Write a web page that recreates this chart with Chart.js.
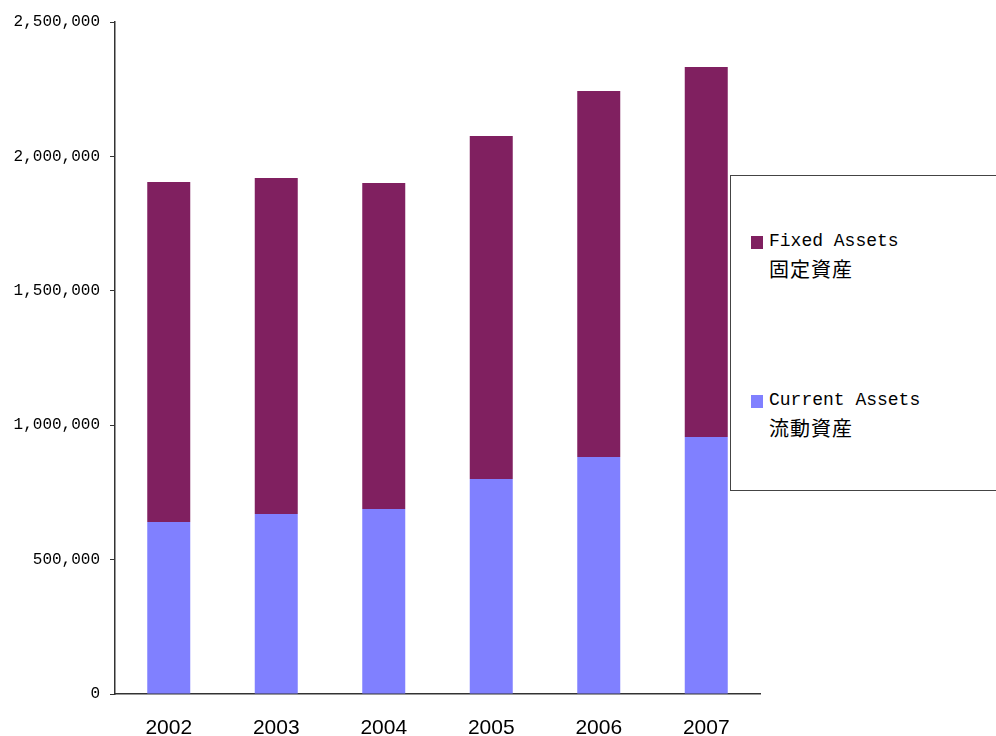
<!DOCTYPE html>
<html>
<head>
<meta charset="utf-8">
<script src="https://cdn.jsdelivr.net/npm/chart.js@4.4.1/dist/chart.umd.min.js"></script>
<style>
  html, body { margin: 0; padding: 0; background: #fff; }
  #wrap { position: relative; width: 996px; height: 736px; overflow: hidden; }
  #legendBox {
    position: absolute; left: 730px; top: 175px; width: 300px; height: 316px;
    border: 1.5px solid #444; background: #fff; box-sizing: border-box;
  }
  .item { position: absolute; left: 20px; }
  .swatch { position: absolute; left: 0; top: 5px; width: 12px; height: 13px; }
  .line1 { position: absolute; left: 18px; top: 0; white-space: nowrap;
    font: 18px "Liberation Mono", "DejaVu Sans Mono", monospace; color: #000; }
  .line2 { position: absolute; left: 18px; top: 23px; white-space: nowrap;
    font: 20px "Noto Sans CJK JP", sans-serif; color: #000; letter-spacing: 1px; }
</style>
</head>
<body>
<div id="wrap">
  <canvas id="assetChart"></canvas>
  <div id="legendBox"></div>
</div>
<script>
// values
const years = ["2002", "2003", "2004", "2005", "2006", "2007"];
const currentAssets = [640000, 670000, 688000, 800000, 882000, 956000];
const fixedAssets = [1265000, 1250000, 1213000, 1276000, 1361000, 1377000];
const yTicks = [0, 500000, 1000000, 1500000, 2000000, 2500000];
const seriesNames = [["Current Assets", "流動資産"], ["Fixed Assets", "固定資産"]];
const seriesColors = ["#8080ff", "#802060"];

const ctx = document.getElementById("assetChart").getContext("2d");

const chart = new Chart(ctx, {
  type: "bar",
  data: {
    labels: years,
    datasets: [
      {
        label: seriesNames[0].join(" "),
        data: currentAssets,
        backgroundColor: seriesColors[0],
        barPercentage: 0.4,
        categoryPercentage: 1.0,
      },
      {
        label: seriesNames[1].join(" "),
        data: fixedAssets,
        backgroundColor: seriesColors[1],
        barPercentage: 0.4,
        categoryPercentage: 1.0,
      },
    ],
  },
  options: {
    responsive: true,
    maintainAspectRatio: false,
    animation: false,
    layout: { padding: { top: 22, right: 236, left: 0, bottom: 0 } },
    plugins: { legend: { display: false }, tooltip: { enabled: false } },
    scales: {
      x: {
        stacked: true,
        grid: { display: false },
        border: { color: "#333", width: 1.5 },
        ticks: {
          color: "#000",
          padding: 14,
          font: { family: "Liberation Sans", size: 21 },
        },
        afterFit: (scale) => { scale.height = 42; },
      },
      y: {
        stacked: true,
        min: 0,
        max: 2500000,
        afterBuildTicks: (scale) => {
          scale.ticks = yTicks.map((v) => ({ value: v }));
        },
        grid: {
          drawOnChartArea: false,
          drawTicks: true,
          tickLength: 5,
          color: "#333",
        },
        border: { color: "#333", width: 1.5 },
        ticks: {
          color: "#000",
          padding: 10,
          font: { family: "Liberation Mono", size: 16 },
          callback: (v) => v.toLocaleString("en-US"),
        },
        afterFit: (scale) => { scale.width = 115; },
      },
    },
  },
});

// Legend: fixed assets on top, current assets below (like the stack)
const legendBox = document.getElementById("legendBox");
[1, 0].forEach((idx, i) => {
  const item = document.createElement("div");
  item.className = "item";
  item.style.top = 55 + i * 159 + "px";
  item.innerHTML =
    '<span class="swatch" style="background:' + seriesColors[idx] + '"></span>' +
    '<span class="line1">' + seriesNames[idx][0] + "</span>" +
    '<span class="line2">' + seriesNames[idx][1] + "</span>";
  legendBox.appendChild(item);
});
</script>
</body>
</html>
